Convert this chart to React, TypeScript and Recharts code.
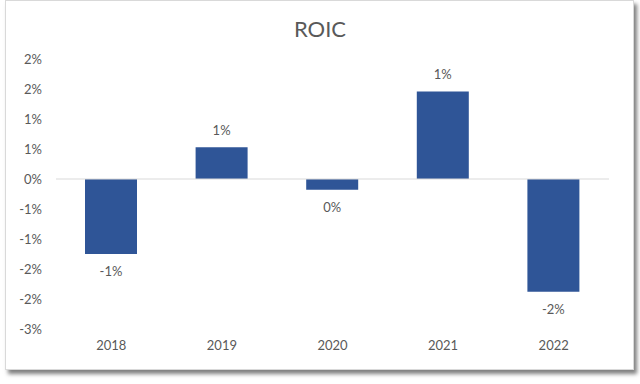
import { BarChart, Bar, XAxis, YAxis, ReferenceLine, LabelList } from 'recharts'

const years = ['2018', '2019', '2020', '2021', '2022']
const roic = [-1.25, 0.53, -0.18, 1.46, -1.88]
const yTicks = [2, 1.5, 1, 0.5, 0, -0.5, -1, -1.5, -2, -2.5]

const FONT = 'Lato, "Open Sans", sans-serif'
const TEXT = '#595959'

// Excel rounds half away from zero
const pct = (v: number) => {
  const r = Math.sign(v) * Math.round(Math.abs(v))
  return `${r === 0 ? 0 : r}%`
}

const data = years.map((year, i) => ({ year, value: roic[i] }))

function BarLabel(props: any) {
  const { x, y, width, height, value } = props
  const top = Math.min(y, y + height)
  const bottom = Math.max(y, y + height)
  const cy = value >= 0 ? top - 17 : bottom + 17
  return (
    <text
      x={x + width / 2}
      y={cy}
      textAnchor="middle"
      dominantBaseline="central"
      fill={TEXT}
      fontSize={13}
      fontFamily={FONT}
    >
      {pct(value)}
    </text>
  )
}

export default function App() {
  return (
    <div style={{ position: 'relative', width: 640, height: 384, background: '#fff' }}>
      <style>{`body{margin:0}`}</style>
      <div
        style={{
          position: 'absolute',
          left: 5,
          top: 0,
          width: 627,
          height: 368,
          border: '1px solid #d9d9d9',
          background: '#fff',
          boxShadow: '3px 4px 4px rgba(0,0,0,0.5)',
        }}
      />
      <div
        style={{
          position: 'absolute',
          left: 0,
          top: 16,
          width: 640,
          textAlign: 'center',
          fontFamily: FONT,
          fontSize: 22,
          color: TEXT,
          lineHeight: '26px',
        }}
      >
        ROIC
      </div>
      <div style={{ position: 'absolute', left: 0, top: 0 }}>
        <BarChart
          width={640}
          height={384}
          data={data}
          margin={{ top: 59, right: 31, bottom: 25, left: 0 }}
        >
          <XAxis
            dataKey="year"
            axisLine={false}
            tickLine={false}
            height={30}
            tickMargin={6}
            tick={{ fill: TEXT, fontSize: 13, fontFamily: FONT }}
          />
          <YAxis
            width={56}
            domain={[-2.5, 2]}
            ticks={yTicks}
            interval={0}
            axisLine={false}
            tickLine={false}
            tickMargin={8}
            tickFormatter={pct}
            tick={{ fill: TEXT, fontSize: 13, fontFamily: FONT }}
          />
          <ReferenceLine y={0} stroke="#d9d9d9" strokeWidth={1} />
          <Bar dataKey="value" fill="#2F5597" barSize={52} isAnimationActive={false}>
            <LabelList dataKey="value" content={BarLabel} />
          </Bar>
        </BarChart>
      </div>
    </div>
  )
}
